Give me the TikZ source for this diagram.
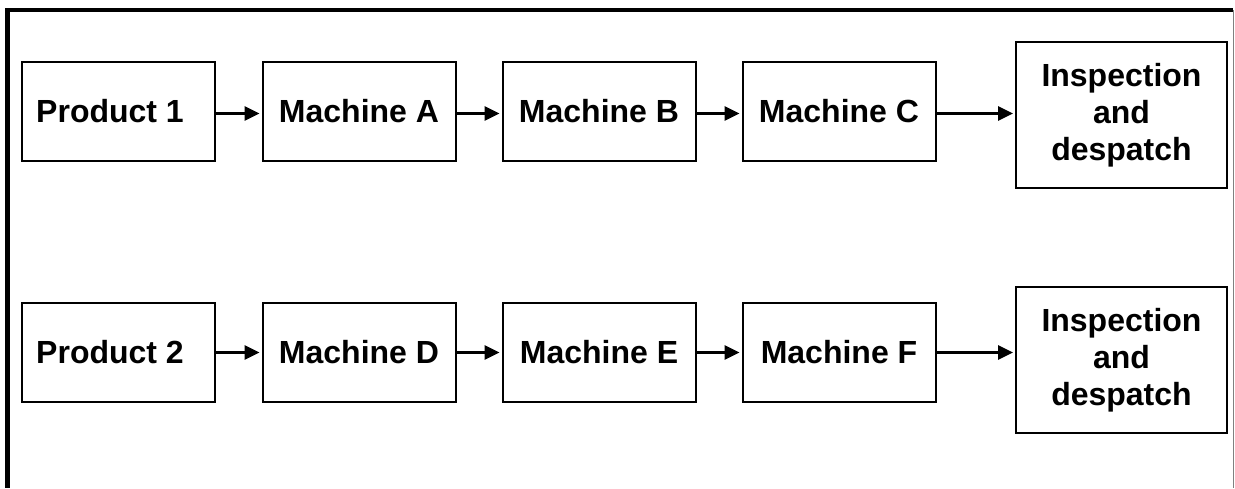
\documentclass[tikz,border=0pt]{standalone}
\usepackage{fontspec}
\setmainfont{Liberation Sans}
\usetikzlibrary{arrows.meta}
\begin{document}
\begin{tikzpicture}[x=1pt,y=-1pt,
  box/.style={draw=black,line width=2pt,rectangle,inner sep=0pt,align=center,
    font=\fontsize{32}{37}\selectfont\bfseries,minimum width=193pt,minimum height=99pt},
  endbox/.style={box,minimum width=211pt,minimum height=146pt},
  flow/.style={line width=3pt,-{Triangle[length=15pt,width=14pt]},shorten >=2pt}]
\useasboundingbox (0,0) rectangle (1235,488);
% frame
\draw[line width=4pt] (7.5,10) -- (1233,10);
\draw[line width=5pt] (7.5,8) -- (7.5,488);
\draw[line width=1pt,gray] (1233,10) -- (1233,488);
% row 1
\node[box] (p1) at (118.5,111.5) {Product 1\kern17pt};
\node[box] (ma) at (359,111.5) {Machine A};
\node[box] (mb) at (599,111.5) {Machine B};
\node[box] (mc) at (839,111.5) {Machine C};
\node[endbox] (i1) at (1121.5,115) {Inspection\\and\\despatch};
% row 2
\node[box] (p2) at (118.5,352.5) {Product 2\kern17pt};
\node[box] (md) at (359,352.5) {Machine D};
\node[box] (me) at (599,352.5) {Machine E};
\node[box] (mf) at (839,352.5) {Machine F};
\node[endbox] (i2) at (1121.5,360) {Inspection\\and\\despatch};
% arrows
\draw[flow] ([yshift=-2pt]p1.east) -- ([yshift=-2pt]ma.west);
\draw[flow] ([yshift=-2pt]ma.east) -- ([yshift=-2pt]mb.west);
\draw[flow] ([yshift=-2pt]mb.east) -- ([yshift=-2pt]mc.west);
\draw[flow] ([yshift=-2pt]mc.east) -- ([yshift=-2pt]mc.east -| i1.west);
\draw[flow] (p2.east) -- (md.west);
\draw[flow] (md.east) -- (me.west);
\draw[flow] (me.east) -- (mf.west);
\draw[flow] (mf.east) -- (mf.east -| i2.west);
\end{tikzpicture}
\end{document}
